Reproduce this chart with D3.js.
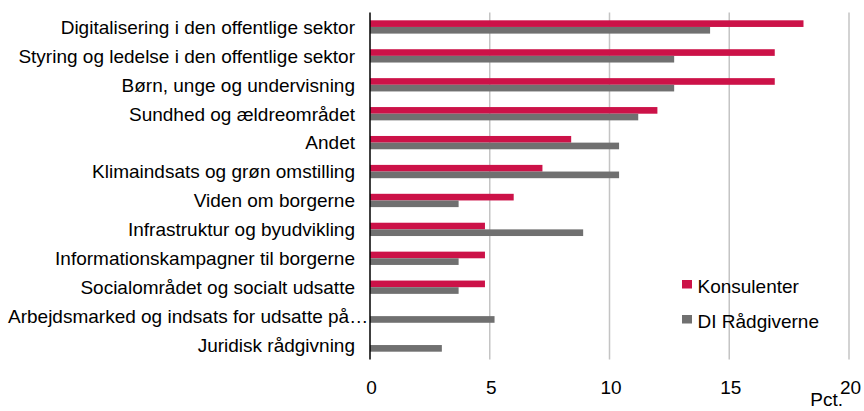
<!DOCTYPE html>
<html>
<head>
<meta charset="utf-8">
<script src="https://cdn.jsdelivr.net/npm/d3@7"></script>
<style>
  html, body { margin: 0; padding: 0; background: #fff; }
  svg { display: block; }
  text { font-family: "Liberation Sans", Arial, sans-serif; fill: #000; }
</style>
</head>
<body>
<svg id="chart" width="864" height="411"></svg>
<script>
const categories = [
  "Digitalisering i den offentlige sektor",
  "Styring og ledelse i den offentlige sektor",
  "Børn, unge og undervisning",
  "Sundhed og ældreområdet",
  "Andet",
  "Klimaindsats og grøn omstilling",
  "Viden om borgerne",
  "Infrastruktur og byudvikling",
  "Informationskampagner til borgerne",
  "Socialområdet og socialt udsatte",
  "Arbejdsmarked og indsats for udsatte på…",
  "Juridisk rådgivning"
];
const seriesNames = ["Konsulenter", "DI Rådgiverne"];
const konsulenter = [18.1, 16.9, 16.9, 12.0, 8.4, 7.2, 6.0, 4.8, 4.8, 4.8, 0, 0];
const diRaadgiverne = [14.2, 12.7, 12.7, 11.2, 10.4, 10.4, 3.7, 8.9, 3.7, 3.7, 5.2, 3.0];
const xTicks = [0, 5, 10, 15, 20];
const unitLabel = "Pct.";
const colors = ["#CC1248", "#707070"];

const svg = d3.select("#chart");
const m = { left: 370, right: 849, top: 12.5, bottom: 359.5 };

const x = d3.scaleLinear().domain([0, 20]).range([m.left, m.right]);
const y = d3.scaleBand().domain(categories).range([m.top, m.bottom])
  .paddingInner(0.54).paddingOuter(0.27);
const ys = d3.scaleBand().domain(seriesNames).range([0, y.bandwidth()]);

// gridlines
svg.append("g").selectAll("line").data(xTicks.filter(d => d > 0)).join("line")
  .attr("x1", d => x(d)).attr("x2", d => x(d))
  .attr("y1", m.top).attr("y2", m.bottom)
  .attr("stroke", "#c4c4c4").attr("stroke-width", 1.5);

// bars
const data = categories.map((c, i) => ({ c, vals: [konsulenter[i], diRaadgiverne[i]] }));
const grp = svg.append("g").selectAll("g").data(data).join("g")
  .attr("transform", d => `translate(0,${y(d.c)})`);
grp.selectAll("rect").data(d => d.vals.map((v, j) => ({ v, s: seriesNames[j], j })))
  .join("rect")
  .attr("x", x(0))
  .attr("y", d => ys(d.s))
  .attr("width", d => x(d.v) - x(0))
  .attr("height", ys.bandwidth())
  .attr("fill", d => colors[d.j]);

// axis line
svg.append("line")
  .attr("x1", x(0)).attr("x2", x(0)).attr("y1", m.top).attr("y2", m.bottom)
  .attr("stroke", "#000").attr("stroke-width", 1.5);

// category labels
svg.append("g").selectAll("text").data(categories).join("text")
  .attr("x", (d, i) => i === 10 ? 8 : 355)
  .attr("y", d => y(d) + y.bandwidth() / 2)
  .attr("dy", "0.36em")
  .attr("text-anchor", (d, i) => i === 10 ? "start" : "end")
  .attr("font-size", 19)
  .text(d => d);

// x tick labels
svg.append("g").selectAll("text").data(xTicks).join("text")
  .attr("x", d => x(d) + 1.5)
  .attr("y", 393.5)
  .attr("text-anchor", "middle")
  .attr("font-size", 19)
  .text(d => d);

svg.append("text")
  .attr("x", 843).attr("y", 406)
  .attr("text-anchor", "end")
  .attr("font-size", 19)
  .text(unitLabel);

// legend
const lg = svg.append("g").selectAll("g").data(seriesNames).join("g")
  .attr("transform", (d, i) => `translate(682,${280 + i * 35})`);
lg.append("rect").attr("width", 10).attr("height", 8.5)
  .attr("fill", (d, i) => colors[i]);
lg.append("text").attr("x", 15.5).attr("y", 12.5)
  .attr("font-size", 19).text(d => d);
</script>
</body>
</html>
